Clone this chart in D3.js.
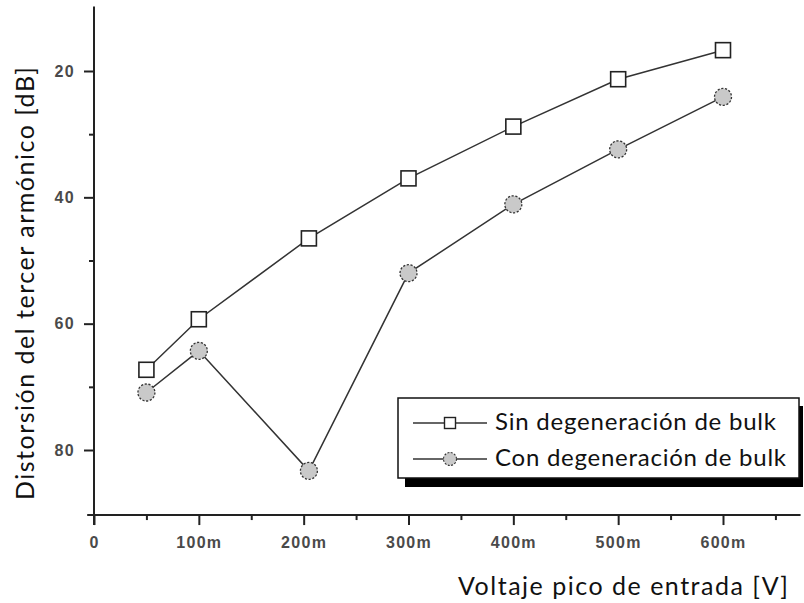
<!DOCTYPE html>
<html>
<head>
<meta charset="utf-8">
<script src="https://cdn.jsdelivr.net/npm/d3@7"></script>
<style>
  html, body { margin: 0; padding: 0; background: #fff; }
  svg { display: block; }
</style>
</head>
<body>
<svg id="chart" width="804" height="603"></svg>
<script>
// Input peak voltage (mV) and third-harmonic distortion (dB)
const voltages = [50, 100, 205, 300, 400, 500, 600];
const sinBulk = [67.3, 59.3, 46.5, 37.0, 28.8, 21.3, 16.7];
const conBulk = [70.9, 64.3, 83.3, 52.0, 41.1, 32.4, 24.1];

const seriesNames = ["Sin degeneración de bulk", "Con degeneración de bulk"];

const xMajorTicks = [0, 100, 200, 300, 400, 500, 600];
const xTickLabels = ["0", "100m", "200m", "300m", "400m", "500m", "600m"];
const xMinorTicks = [50, 150, 250, 350, 450, 550, 650];
const yMajorTicks = [20, 40, 60, 80];
const yTickLabels = ["20", "40", "60", "80"];
const yMinorTicks = [30, 50, 70];

const xTitle = "Voltaje pico de entrada [V]";
const yTitle = "Distorsión del tercer armónico [dB]";

const svg = d3.select("#chart");

const x = d3.scaleLinear().domain([0, 600]).range([94, 723]);
const y = d3.scaleLinear().domain([20, 80]).range([71, 450]);

const xAxisY = y(90.3);
const axisColor = "#222";
const tickFont = "'Liberation Sans', Arial, sans-serif";
const titleFont = "Lato, 'Open Sans', sans-serif";

// ---- axes ----
const xAxisG = svg.append("g").attr("transform", `translate(0,${xAxisY})`);
xAxisG.append("line")
  .attr("x1", x(-6.5)).attr("x2", x(674))
  .attr("stroke", axisColor).attr("stroke-width", 2);

const xAxisMajor = d3.axisBottom(x)
  .tickValues(xMajorTicks)
  .tickSize(10)
  .tickPadding(12)
  .tickFormat((d, i) => xTickLabels[i]);
const gxMajor = xAxisG.append("g").call(xAxisMajor);
gxMajor.select(".domain").remove();

const xAxisMinor = d3.axisBottom(x).tickValues(xMinorTicks).tickSize(5).tickFormat("");
const gxMinor = xAxisG.append("g").call(xAxisMinor);
gxMinor.select(".domain").remove();

const yAxisG = svg.append("g").attr("transform", `translate(${x(0)},0)`);
yAxisG.append("line")
  .attr("y1", y(9.8)).attr("y2", xAxisY + 10)
  .attr("stroke", axisColor).attr("stroke-width", 2);

const yAxisMajor = d3.axisLeft(y)
  .tickValues(yMajorTicks)
  .tickSize(10)
  .tickPadding(9)
  .tickFormat((d, i) => yTickLabels[i]);
const gyMajor = yAxisG.append("g").call(yAxisMajor);
gyMajor.select(".domain").remove();

const yAxisMinor = d3.axisLeft(y).tickValues(yMinorTicks).tickSize(5).tickFormat("");
const gyMinor = yAxisG.append("g").call(yAxisMinor);
gyMinor.select(".domain").remove();

svg.selectAll(".tick line").attr("stroke", axisColor).attr("stroke-width", 2);
svg.selectAll(".tick text")
  .attr("fill", "#4a4a4a")
  .style("font-family", tickFont)
  .style("font-weight", "700")
  .style("font-size", "16px")
  .style("letter-spacing", "1.3px");

// ---- axis titles ----
svg.append("text")
  .attr("x", 458).attr("y", 595)
  .attr("textLength", 330).attr("lengthAdjust", "spacing")
  .style("font-family", titleFont).style("font-size", "25px")
  .attr("fill", "#111")
  .text(xTitle);

svg.append("text")
  .attr("transform", "translate(34,500) rotate(-90)")
  .attr("textLength", 433).attr("lengthAdjust", "spacing")
  .style("font-family", titleFont).style("font-size", "25px")
  .attr("fill", "#111")
  .text(yTitle);

// ---- series ----
const line = d3.line().x((d, i) => x(voltages[i])).y(d => y(d));
const lineColor = "#333";

function drawSquares(g, values, size) {
  g.selectAll("rect").data(values).join("rect")
    .attr("x", (d, i) => x(voltages[i]) - size / 2)
    .attr("y", d => y(d) - size / 2)
    .attr("width", size).attr("height", size)
    .attr("fill", "#fff").attr("stroke", "#222").attr("stroke-width", 1.6);
}

function drawCircles(g, values, r) {
  g.selectAll("circle").data(values).join("circle")
    .attr("cx", (d, i) => x(voltages[i]))
    .attr("cy", d => y(d))
    .attr("r", r)
    .attr("fill", "#c9c9c9").attr("stroke", "#333").attr("stroke-width", 1.3)
    .attr("stroke-dasharray", "2.2,1.6");
}

svg.append("path").datum(conBulk).attr("d", line)
  .attr("fill", "none").attr("stroke", lineColor).attr("stroke-width", 1.5);
svg.append("path").datum(sinBulk).attr("d", line)
  .attr("fill", "none").attr("stroke", lineColor).attr("stroke-width", 1.5);

drawCircles(svg.append("g"), conBulk, 8.5);
drawSquares(svg.append("g"), sinBulk, 15);

// ---- legend ----
const legend = svg.append("g");
legend.append("rect")
  .attr("x", 405).attr("y", 406).attr("width", 398).attr("height", 81)
  .attr("fill", "#000");
legend.append("rect")
  .attr("x", 398).attr("y", 398).attr("width", 401).attr("height", 80)
  .attr("fill", "#fff").attr("stroke", "#111").attr("stroke-width", 1.5);

const legendRows = [423, 459];
legendRows.forEach((ly, i) => {
  legend.append("line")
    .attr("x1", 413).attr("x2", 487).attr("y1", ly).attr("y2", ly)
    .attr("stroke", lineColor).attr("stroke-width", 1.5);
  if (i === 0) {
    legend.append("rect")
      .attr("x", 444.5).attr("y", ly - 5.5).attr("width", 11).attr("height", 11)
      .attr("fill", "#fff").attr("stroke", "#222").attr("stroke-width", 1.4);
  } else {
    legend.append("circle")
      .attr("cx", 450).attr("cy", ly).attr("r", 6.5)
      .attr("fill", "#c9c9c9").attr("stroke", "#333").attr("stroke-width", 1.1)
      .attr("stroke-dasharray", "2,1.4");
  }
  legend.append("text")
    .attr("x", 495).attr("y", ly + 7)
    .attr("textLength", i === 0 ? 281 : 291).attr("lengthAdjust", "spacing")
    .style("font-family", titleFont).style("font-size", "24px")
    .attr("fill", "#111")
    .text(seriesNames[i]);
});
</script>
</body>
</html>
